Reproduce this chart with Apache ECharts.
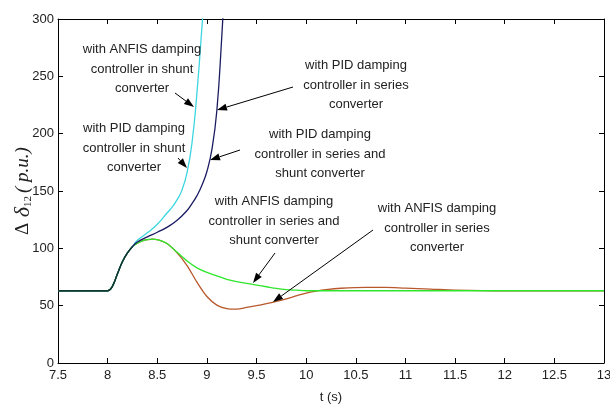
<!DOCTYPE html>
<html>
<head>
<meta charset="utf-8">
<script src="https://cdn.jsdelivr.net/npm/echarts@6/dist/echarts.min.js"></script>
<style>html,body{margin:0;padding:0;background:#fff}#c{width:610px;height:408px}</style>
</head>
<body>
<div id="c"></div>
<script>
// ---- data ----
const xTicks = [7.5, 8, 8.5, 9, 9.5, 10, 10.5, 11, 11.5, 12, 12.5, 13];
const yTicks = [0, 50, 100, 150, 200, 250, 300];

// common pre-disturbance + initial rise shared by all cases
const riseT = [7.5, 8.0, 8.03, 8.06, 8.1, 8.15, 8.2, 8.25];
const riseV = [63, 63, 64.5, 69, 78, 88.5, 96, 101.5];

// ANFIS damping controller in series and shunt converter (green)
const greenT = [8.3, 8.35, 8.4, 8.45, 8.5, 8.6, 8.7, 8.8, 8.9, 9.0, 9.1, 9.2, 9.3, 9.4, 9.5, 9.6, 9.7, 9.8, 9.9, 10.0, 10.2, 10.5, 11, 12, 13];
const greenV = [104.5, 106.5, 107.5, 108, 107.5, 104, 96.5, 89, 83, 79, 76, 73, 71, 69.5, 68, 66.5, 65, 64, 63.5, 63, 63, 63, 63, 63, 63];

// ANFIS damping controller in series converter (brown)
const brownT = [8.3, 8.35, 8.4, 8.45, 8.5, 8.6, 8.7, 8.8, 8.9, 9.0, 9.1, 9.2, 9.3, 9.4, 9.5, 9.6, 9.7, 9.8, 9.9, 10.0, 10.1, 10.2, 10.35, 10.6, 10.8, 11.0, 11.25, 11.5, 12, 13];
const brownV = [104.5, 106.5, 107.5, 108, 107.5, 104, 96, 85, 70.5, 58, 50.5, 47.5, 47, 48.5, 50, 51.8, 53.8, 56, 58.5, 61, 62.7, 64, 65.2, 66, 66, 65.3, 64.5, 63.6, 63, 63];

// ANFIS / PID damping controller in shunt converter (cyan)
const cyanT = [8.3, 8.4, 8.5, 8.6, 8.65, 8.7, 8.75, 8.8, 8.85, 8.9, 8.95, 8.98];
const cyanV = [107, 113.5, 121, 131, 136, 142.5, 151, 166, 192, 236, 293, 330];

// PID damping controller in series / series and shunt converter (navy)
const navyT = [8.3, 8.4, 8.5, 8.6, 8.7, 8.8, 8.85, 8.9, 8.95, 9.0, 9.05, 9.1, 9.15, 9.2];
const navyV = [105.5, 110, 114, 118.5, 124.5, 133, 139, 146, 155, 167, 186, 220, 285, 360];

const notes = [
  ['with ANFIS damping', 'controller in shunt', 'converter'],
  ['with PID damping', 'controller in shunt', 'converter'],
  ['with PID damping', 'controller in series', 'converter'],
  ['with PID damping', 'controller in series and', 'shunt converter'],
  ['with ANFIS damping', 'controller in series and', 'shunt converter'],
  ['with ANFIS damping', 'controller in series', 'converter']
];

// ---- build ----
function pairs(ts, vs) { return ts.map((t, i) => [t, vs[i]]); }
const rise = pairs(riseT, riseV);

const chart = echarts.init(document.getElementById('c'), null, {renderer: 'canvas'});
const FONT = '"Liberation Sans", Arial, sans-serif';
const SERIF = '"Liberation Serif", "Times New Roman", serif';
const txt = '#222';

function lineSeries(name, data, color, z, smooth) {
  return {
    name, type: 'line', data, showSymbol: false, smooth: smooth,
    lineStyle: {color, width: 1.3}, itemStyle: {color}, z, clip: true, animation: false
  };
}

const axisCommon = {
  type: 'value', min: 7.5, max: 13, interval: 0.5,
  axisLine: {show: true, onZero: false, lineStyle: {color: '#000', width: 1}},
  axisTick: {show: true, inside: true, length: 5, lineStyle: {color: '#000'}},
  splitLine: {show: false}
};

const option = {
  animation: false,
  backgroundColor: '#fff',
  grid: {left: 58, right: 6, top: 19, bottom: 45, containLabel: false, outerBoundsMode: 'none'},
  xAxis: [
    Object.assign({}, axisCommon, {
      position: 'bottom',
      axisLabel: {color: txt, fontFamily: FONT, fontSize: 13, margin: 6,
        formatter: v => xTicks.includes(+v.toFixed(1)) ? String(+v.toFixed(1)) : ''},
      name: 't (s)', nameLocation: 'middle', nameGap: 28, nameMoveOverlap: false,
      nameTextStyle: {color: txt, fontFamily: FONT, fontSize: 13}
    }),
    Object.assign({}, axisCommon, {position: 'top', axisLabel: {show: false}})
  ],
  yAxis: [
    {
      type: 'value', min: 0, max: 300, interval: 50, position: 'left',
      axisLine: {show: true, onZero: false, lineStyle: {color: '#000'}},
      axisTick: {show: true, inside: true, length: 5, lineStyle: {color: '#000'}},
      splitLine: {show: false},
      axisLabel: {color: txt, fontFamily: FONT, fontSize: 13, margin: 4,
        formatter: v => yTicks.includes(v) ? String(v) : ''},
      name: '{a|Δ}{b| δ}{s|12}{c|( p.u.)}',
      nameLocation: 'middle', nameGap: 24, nameRotate: 90, nameMoveOverlap: false,
      nameTextStyle: {
        color: txt,
        rich: {
          a: {fontFamily: SERIF, fontSize: 19, color: txt},
          b: {fontFamily: SERIF, fontStyle: 'italic', fontSize: 22, color: txt},
          s: {fontFamily: SERIF, fontSize: 11, color: txt, verticalAlign: 'bottom', padding: [10, 3, 0, 0]},
          c: {fontFamily: SERIF, fontStyle: 'italic', fontSize: 19, color: txt}
        }
      }
    },
    {
      type: 'value', min: 0, max: 300, interval: 50, position: 'right',
      axisLine: {show: true, onZero: false, lineStyle: {color: '#000'}},
      axisTick: {show: true, inside: true, length: 5, lineStyle: {color: '#000'}},
      axisLabel: {show: false}, splitLine: {show: false}
    }
  ],
  series: [
    lineSeries('ANFIS series', rise.concat(pairs(brownT, brownV)), '#b8582c', 2, 0.3),
    lineSeries('ANFIS series and shunt', rise.concat(pairs(greenT, greenV)), '#2ee62a', 3, 0.3),
    lineSeries('shunt', rise.concat(pairs(cyanT, cyanV)), '#3cd6e0', 4, 0.5),
    lineSeries('PID series', rise.concat(pairs(navyT, navyV)), '#1b1b62', 5, 0.5),
    lineSeries('common', rise, '#0e3b2c', 6, 0.3)
  ]
};
chart.setOption(option);

// ---- annotations (pixel layout) ----
const noteLayout = [
  {x: 142, y: 69, tail: [175, 93], tip: [194, 107]},
  {x: 134, y: 148, tail: [178, 158], tip: [187, 168]},
  {x: 356, y: 85, tail: [293, 87], tip: [217, 110]},
  {x: 320, y: 154, tail: [240, 150], tip: [210, 160]},
  {x: 274, y: 221, tail: [275, 253], tip: [253, 283]},
  {x: 437, y: 228, tail: [373, 230], tip: [273, 302]}
];

const graphics = [];
notes.forEach((lines, i) => {
  const L = noteLayout[i];
  graphics.push({
    type: 'text', z: 100,
    style: {text: lines.join('\n'), x: L.x, y: L.y, align: 'center', verticalAlign: 'middle',
      font: '13px ' + FONT, fill: txt, lineHeight: 19.5}
  });
  const [x1, y1] = L.tail, [x2, y2] = L.tip;
  const dx = x2 - x1, dy = y2 - y1, len = Math.hypot(dx, dy);
  const ux = dx / len, uy = dy / len, hl = 10, hw = 3.5;
  const bx = x2 - ux * hl, by = y2 - uy * hl;
  graphics.push({type: 'line', z: 100, shape: {x1, y1, x2: bx, y2: by}, style: {stroke: '#000', lineWidth: 1}});
  graphics.push({type: 'polygon', z: 100, shape: {points: [[x2, y2], [bx - uy * hw, by + ux * hw], [bx + uy * hw, by - ux * hw]]}, style: {fill: '#000'}});
});
chart.setOption({graphic: graphics});
</script>
</body>
</html>
